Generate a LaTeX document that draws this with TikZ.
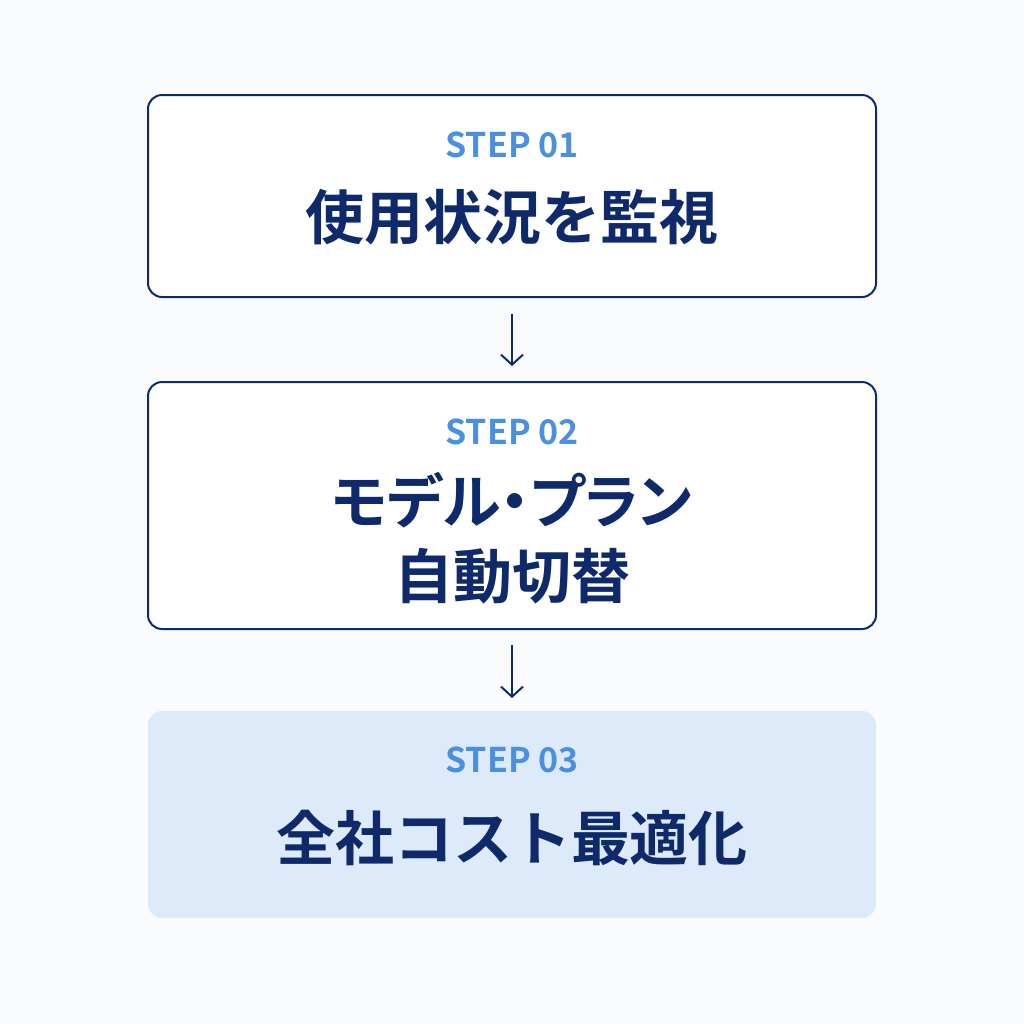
\documentclass[tikz,border=0pt]{standalone}
\usepackage{fontspec}
\setmainfont{Noto Sans CJK JP}[BoldFont={* Bold}]
\newfontfamily\jpb{Noto Sans CJK JP Bold}
\newfontfamily\jpbp{Noto Sans CJK JP Bold}[RawFeature=+palt]
\usetikzlibrary{arrows.meta}
\definecolor{navy}{HTML}{0F2A6B}
\definecolor{stepblue}{HTML}{4A8FE0}
\definecolor{softfill}{HTML}{DDEAFA}
\definecolor{bg}{HTML}{FAFBFD}
\tikzset{
  box/.style={draw=navy, line width=1pt, rounded corners=7pt, fill=white},
  filledbox/.style={fill=softfill, rounded corners=7pt},
  steplabel/.style={text=stepblue, font=\jpb\fontsize{17}{19}\selectfont},
  title/.style={text=navy, font=\jpb\fontsize{29.5}{37.5}\selectfont, align=center},
  flow/.style={draw=navy, line width=1pt, -{Straight Barb[length=5pt,width=11pt,line width=1pt]}}
}
\begin{document}
\begin{tikzpicture}[x=0.5pt,y=-0.5pt]
\fill[bg] (0,0) rectangle (1024,1024);
\useasboundingbox (0,0) rectangle (1024,1024);
\draw[box] (148,95) rectangle (876,297);
\draw[box] (148,382) rectangle (876,629);
\fill[filledbox] (148,711) rectangle (876,918);
\node[steplabel] (s1) at (512,145) {STEP 01};
\node[title] (t1) at (512,217) {使用状況を監視};
\node[steplabel] (s2) at (512,432) {STEP 02};
\node[title] (t2) at (512,538) {{\jpbp モデル・プラン}\\自動切替};
\node[steplabel] (s3) at (512,760) {STEP 03};
\node[title] (t3) at (512,838) {全社コスト最適化};
\coordinate (a1) at (512,314);
\coordinate (b1) at (512,366);
\coordinate (a2) at (512,645);
\coordinate (b2) at (512,698);
\draw[flow] (a1) -- (b1);
\draw[flow] (a2) -- (b2);
\end{tikzpicture}
\end{document}
